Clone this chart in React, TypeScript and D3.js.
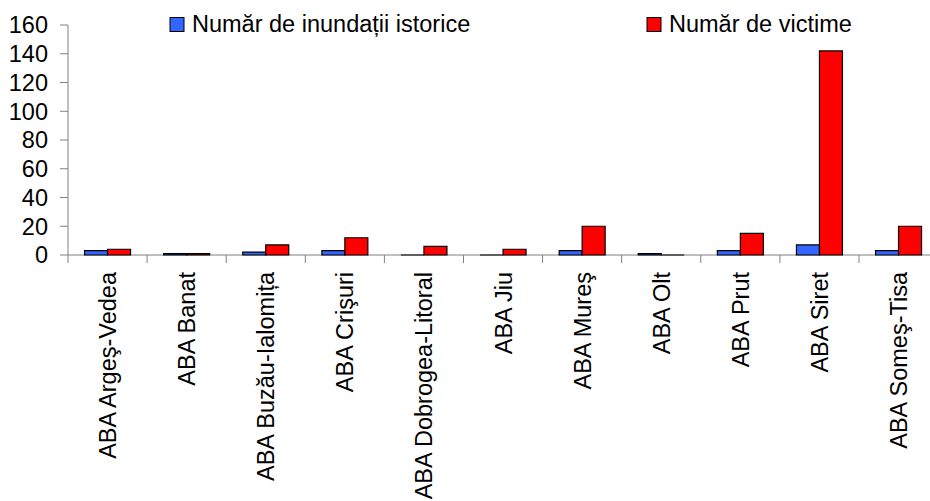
import React from "react";
import * as d3 from "d3";

const categories = [
  "ABA Argeş-Vedea",
  "ABA Banat",
  "ABA Buzău-Ialomița",
  "ABA Crişuri",
  "ABA Dobrogea-Litoral",
  "ABA Jiu",
  "ABA Mureş",
  "ABA Olt",
  "ABA Prut",
  "ABA Siret",
  "ABA Someş-Tisa",
];
const seriesNames = ["Număr de inundații istorice", "Număr de victime"];
const floods = [3, 1, 2, 3, 0, 0, 3, 1, 3, 7, 3];
const victims = [4, 1, 7, 12, 6, 4, 20, 0, 15, 142, 20];
const yTicks = [0, 20, 40, 60, 80, 100, 120, 140, 160];
const colors = ["#3366FF", "#FF0000"];

const W = 930;
const H = 501;
const FONT = "'Liberation Sans', Arial, sans-serif";
const FS = 23.5;

export default function App() {
  const x0 = d3.scaleBand<string>().domain(categories).range([68, 68 + 11 * 79.1]).padding(0);
  const x1 = d3
    .scaleBand<number>()
    .domain([0, 1])
    .range([0, x0.bandwidth()])
    .paddingInner(0)
    .paddingOuter(0.72);
  const y = d3.scaleLinear().domain([0, 160]).range([255, 25]);
  const data = [floods, victims];

  const barPath = (x: number, w: number, v: number) => {
    const p = d3.path();
    p.moveTo(x, y(0));
    p.lineTo(x, y(v));
    p.lineTo(x + w, y(v));
    p.lineTo(x + w, y(0));
    p.closePath();
    return p.toString();
  };

  return (
    <svg
      width={W}
      height={H}
      style={{ position: "absolute", left: 0, top: 0, background: "#fff" }}
      fontFamily={FONT}
    >
      {/* y axis */}
      <line x1={68} x2={68} y1={y(160)} y2={y(0)} stroke="#808080" strokeWidth={1} />
      {yTicks.map((t) => (
        <g key={t}>
          <line x1={60} x2={68} y1={y(t)} y2={y(t)} stroke="#808080" strokeWidth={1} />
          <text x={48} y={y(t)} dy="0.36em" textAnchor="end" fontSize={FS} fill="#000">
            {t}
          </text>
        </g>
      ))}
      {/* x axis */}
      <line x1={68} x2={W} y1={y(0)} y2={y(0)} stroke="#808080" strokeWidth={1} />
      {categories.map((c, i) => (
        <line
          key={"t" + i}
          x1={x0(c) as number}
          x2={x0(c) as number}
          y1={y(0)}
          y2={y(0) + 8}
          stroke="#808080"
          strokeWidth={1}
        />
      ))}
      {/* bars */}
      {categories.map((c, i) => (
        <g key={c}>
          {data.map((s, k) => (
            <path
              key={k}
              d={barPath((x0(c) as number) + (x1(k) as number), x1.bandwidth(), s[i])}
              fill={colors[k]}
              stroke="#000"
              strokeWidth={1.2}
            />
          ))}
        </g>
      ))}
      {categories.map((c) => {
        const cx = (x0(c) as number) + x0.bandwidth() / 2;
        return (
          <text
            key={"l" + c}
            transform={`translate(${cx},272) rotate(-90)`}
            textAnchor="end"
            dy="0.36em"
            fontSize={FS}
            fill="#000"
          >
            {c}
          </text>
        );
      })}
      {/* legend */}
      {seriesNames.map((n, k) => {
        const lx = k === 0 ? 170 : 647;
        return (
          <g key={n}>
            <rect x={lx} y={17.5} width={14} height={14} fill={colors[k]} stroke="#000" strokeWidth={1} />
            <text x={lx + 22} y={32} fontSize={FS} fill="#000">
              {n}
            </text>
          </g>
        );
      })}
    </svg>
  );
}
